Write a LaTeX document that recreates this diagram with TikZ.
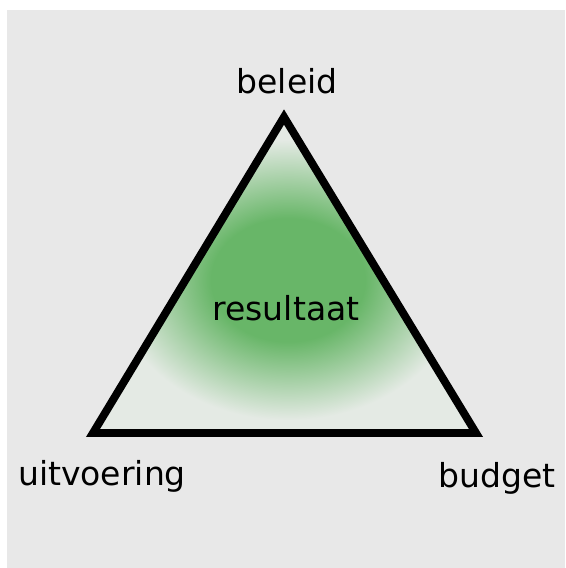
\documentclass[tikz,border=0pt]{standalone}
\usepackage{fontspec}
\setmainfont{DejaVu Sans}
\definecolor{bggray}{RGB}{232,232,232}
\definecolor{resgreen}{RGB}{104,182,104}
\definecolor{paleinside}{RGB}{228,234,228}
\pgfdeclareradialshading{resshade}{\pgfpoint{0bp}{0bp}}{color(0bp)=(resgreen); color(11bp)=(resgreen); color(25bp)=(paleinside); color(50bp)=(paleinside)}

\begin{document}
\begin{tikzpicture}[x=0.02cm, y=-0.02cm, >=stealth,
  label/.style={font=\fontsize{18.8}{22}\selectfont, anchor=base, inner sep=0pt}]
\useasboundingbox (0,0) rectangle (565,568);
\fill[white] (0,0) rectangle (565,568);
\fill[bggray] (7,10) rectangle (565,568);
\coordinate (B) at (284,117);
\coordinate (U) at (93,433);
\coordinate (G) at (476,433);
% green shading inside the triangle
\begin{scope}
\clip (B) -- (U) -- (G) -- cycle;
\fill[paleinside] (B) -- (U) -- (G) -- cycle;
\shade[shading=resshade] (288,280) ellipse (175 and 140);
\end{scope}
\draw[line width=4.5pt] (B) -- (U) -- (G) -- cycle;
\node[label] (beleid) at (287,93) {beleid};
\node[label] (uitvoering) at (102,485) {uitvoering};
\node[label] (budget) at (497,487) {budget};
\node[label] (resultaat) at (286,320) {resultaat};
\end{tikzpicture}
\end{document}
